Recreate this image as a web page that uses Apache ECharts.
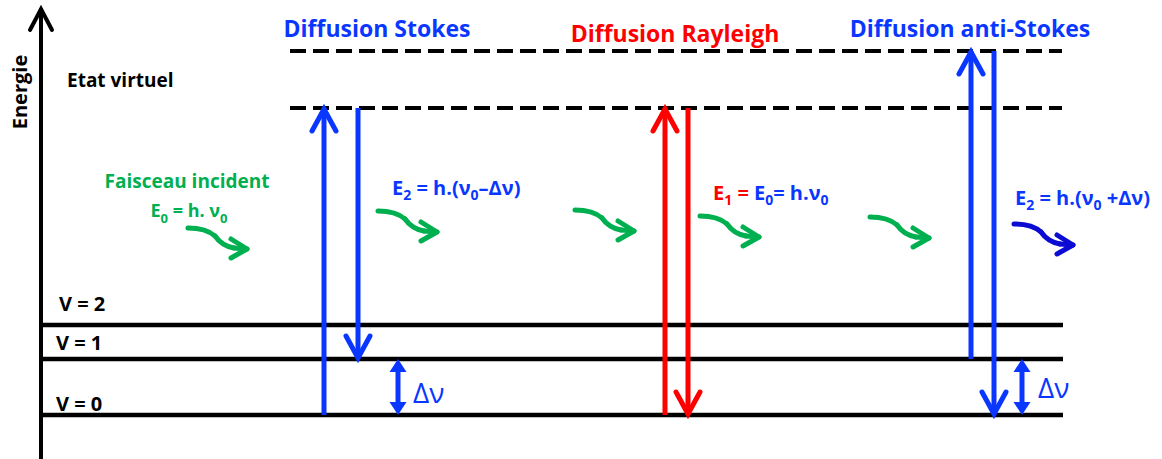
<!DOCTYPE html>
<html>
<head>
<meta charset="utf-8">
<script src="https://cdn.jsdelivr.net/npm/echarts@6/dist/echarts.min.js"></script>
<style>
  html, body { margin: 0; padding: 0; background: #fff; }
  #main { width: 1162px; height: 459px; }
</style>
</head>
<body>
<div id="main"></div>
<script>
const FONT = '"Open Sans", "DejaVu Sans", sans-serif';
const BLUE = '#0a37ff', RED = '#ff0000', GREEN = '#00b050', NAVY = '#0b0bd4';

// energy scale : 1 unit above the V = 0 level
const levelNames = ['V = 0', 'V = 1', 'V = 2'];
const levelEnergy = [0, 56, 90];
const virtualEnergy = [307, 364];
const processNames = ['Diffusion Stokes', 'Diffusion Rayleigh', 'Diffusion anti-Stokes'];

// absorption (up) and emission (down) for each process
const upX = [324, 665, 971];
const upFrom = [0, 0, 56];
const upTo = [307, 307, 364];
const downX = [358, 688, 994];
const downFrom = [307, 307, 364];
const downTo = [56, 0, 0];

// delta nu markers between V = 0 and V = 1
const deltaX = [398, 1022];

// photons (wavy arrows), start point
const photonX = [188, 378, 575, 700, 870, 1014];
const photonE = [187, 204, 205, 199, 198, 191];
const photonOut = [false, false, false, false, false, true];

const procColor = [BLUE, RED, BLUE];

var chart = echarts.init(document.getElementById('main'), null, { renderer: 'svg' });

// wave shape (dx, dE) from the start point
const waveA = [[0, 0], [18, 0], [27, -8]];
const waveB = [[27, -8], [34, -18], [46, -20]];
const waveC = [[46, -20], [59, -21]];
const waveHead = [[43, -11], [59, -21], [43, -30]];

function pt(api, x, e) { return api.coord([x, e]); }

function vArrow(api, x, e0, e1, color, width, hw, hl) {
    const p0 = pt(api, x, e0), p1 = pt(api, x, e1);
    const dir = p1[1] < p0[1] ? 1 : -1; // head points up when 1
    return [
        { type: 'line', shape: { x1: p0[0], y1: p0[1], x2: p1[0], y2: p1[1] },
          style: { stroke: color, lineWidth: width } },
        { type: 'polyline', shape: { points: [[p1[0] - hw, p1[1] + dir * hl], [p1[0], p1[1] + 1 * dir], [p1[0] + hw, p1[1] + dir * hl]] },
          style: { stroke: color, lineWidth: width, fill: null, lineCap: 'round', lineJoin: 'miter' } }
    ];
}

function subRich(color, size) {
    const sub = Math.round(size * 0.7);
    return {
        n: { fill: color, fontSize: size, fontWeight: 'bold', fontFamily: FONT, lineHeight: 28 },
        s: { fill: color, fontSize: sub, fontWeight: 'bold', fontFamily: FONT, lineHeight: sub + 2, verticalAlign: 'bottom' },
        r: { fill: RED, fontSize: size, fontWeight: 'bold', fontFamily: FONT, lineHeight: 28 },
        rs: { fill: RED, fontSize: sub, fontWeight: 'bold', fontFamily: FONT, lineHeight: sub + 2, verticalAlign: 'bottom' }
    };
}

const notes = [
    { text: processNames[0], x: 377, e: 387, color: procColor[0], size: 23, bold: true, align: 'center' },
    { text: processNames[1], x: 675, e: 382, color: procColor[1], size: 23, bold: true, align: 'center' },
    { text: processNames[2], x: 970, e: 387, color: procColor[2], size: 23, bold: true, align: 'center' },
    { text: 'Etat virtuel', x: 67, e: 335, color: '#000', size: 19, bold: true, align: 'left' },
    { text: 'Energie', x: 19, e: 323, color: '#000', size: 20, bold: true, align: 'center', rot: Math.PI / 2 },
    { text: 'Faisceau incident', x: 187, e: 234, color: GREEN, size: 19, bold: true, align: 'center' },
    { text: '{n|E}{s|0}{n| = h. ν}{s|0}', x: 189, e: 205, color: GREEN, size: 18, rich: true, align: 'center' },
    { text: '{n|E}{s|2}{n| = h.(ν}{s|0}{n|–Δν)}', x: 392, e: 228, color: BLUE, size: 20, rich: true, align: 'left' },
    { text: '{r|E}{rs|1}{r| = }{n|E}{s|0}{n|= h.ν}{s|0}', x: 713, e: 223, color: BLUE, size: 20, rich: true, align: 'left' },
    { text: '{n|E}{s|2}{n| = h.(ν}{s|0}{n| +Δν)}', x: 1015, e: 218, color: BLUE, size: 20, rich: true, align: 'left' },
    { text: levelNames[2], x: 59, e: 112, color: '#000', size: 20, bold: true, align: 'left' },
    { text: levelNames[1], x: 56, e: 73, color: '#000', size: 20, bold: true, align: 'left' },
    { text: levelNames[0], x: 56, e: 12, color: '#000', size: 20, bold: true, align: 'left' },
    { text: 'Δν', x: 413, e: 23, color: BLUE, size: 28, align: 'left' },
    { text: 'Δν', x: 1038, e: 28, color: BLUE, size: 28, align: 'left' }
];

var option = {
    animation: false,
    grid: { left: 0, right: 0, top: 0, bottom: 0 },
    xAxis: { type: 'value', min: 0, max: 1162, show: false },
    yAxis: { type: 'value', min: -44, max: 415, show: false },
    series: [
        {
            // energy axis
            type: 'custom',
            data: [[41, -44, 407]],
            renderItem: function (params, api) {
                return { type: 'group', children: vArrow(api, api.value(0), api.value(1), api.value(2), '#000', 4, 11, 22) };
            }
        },
        {
            // vibrational levels
            type: 'custom',
            data: levelEnergy.map(e => [e]),
            renderItem: function (params, api) {
                const a = pt(api, 41, api.value(0)), b = pt(api, 1063, api.value(0));
                return { type: 'line', shape: { x1: a[0], y1: a[1], x2: b[0], y2: b[1] },
                         style: { stroke: '#000', lineWidth: 4.5 } };
            }
        },
        {
            // virtual states
            type: 'custom',
            data: virtualEnergy.map(e => [e]),
            renderItem: function (params, api) {
                const a = pt(api, 290, api.value(0)), b = pt(api, 1062, api.value(0));
                return { type: 'line', shape: { x1: a[0], y1: a[1], x2: b[0], y2: b[1] },
                         style: { stroke: '#000', lineWidth: 4, lineDash: [16, 7] } };
            }
        },
        {
            // transitions
            type: 'custom',
            data: upX.map((x, i) => [x, upFrom[i], upTo[i], i]).concat(downX.map((x, i) => [x, downFrom[i], downTo[i], i])),
            renderItem: function (params, api) {
                const c = procColor[api.value(3)];
                return { type: 'group', children: vArrow(api, api.value(0), api.value(1), api.value(2), c, 5, 12, 23) };
            }
        },
        {
            // delta nu double arrows
            type: 'custom',
            data: deltaX.map(x => [x, levelEnergy[0], levelEnergy[1]]),
            renderItem: function (params, api) {
                const lo = pt(api, api.value(0), api.value(1)), hi = pt(api, api.value(0), api.value(2));
                const x = lo[0], hw = 8.5, hl = 13;
                return { type: 'group', children: [
                    { type: 'line', shape: { x1: x, y1: hi[1] + hl - 1, x2: x, y2: lo[1] - hl + 1 }, style: { stroke: BLUE, lineWidth: 5 } },
                    { type: 'polygon', shape: { points: [[x, hi[1]], [x - hw, hi[1] + hl], [x + hw, hi[1] + hl]] }, style: { fill: BLUE } },
                    { type: 'polygon', shape: { points: [[x, lo[1]], [x - hw, lo[1] - hl], [x + hw, lo[1] - hl]] }, style: { fill: BLUE } }
                ] };
            }
        },
        {
            // photons
            type: 'custom',
            data: photonX.map((x, i) => [x, photonE[i], photonOut[i] ? 1 : 0]),
            renderItem: function (params, api) {
                const x0 = api.value(0), e0 = api.value(1);
                const c = api.value(2) ? NAVY : GREEN;
                const m = p => pt(api, x0 + p[0], e0 + p[1]);
                const st = { stroke: c, lineWidth: 5, fill: null, lineCap: 'round', lineJoin: 'round' };
                const A = waveA.map(m), B = waveB.map(m), C = waveC.map(m), H = waveHead.map(m);
                return { type: 'group', children: [
                    { type: 'bezierCurve', shape: { x1: A[0][0], y1: A[0][1], cpx1: A[1][0], cpy1: A[1][1], x2: A[2][0], y2: A[2][1] }, style: st },
                    { type: 'bezierCurve', shape: { x1: B[0][0], y1: B[0][1], cpx1: B[1][0], cpy1: B[1][1], x2: B[2][0], y2: B[2][1] }, style: st },
                    { type: 'line', shape: { x1: C[0][0], y1: C[0][1], x2: C[1][0], y2: C[1][1] }, style: st },
                    { type: 'polyline', shape: { points: H }, style: st }
                ] };
            }
        },
        {
            // texts
            type: 'custom',
            data: notes.map((n, i) => [n.x, n.e, i]),
            renderItem: function (params, api) {
                const n = notes[api.value(2)];
                const p = pt(api, api.value(0), api.value(1));
                const style = {
                    text: n.text, fill: n.color, fontSize: n.size, fontFamily: FONT,
                    fontWeight: n.bold ? 'bold' : 'normal', align: n.align, verticalAlign: 'middle'
                };
                if (n.rich) style.rich = subRich(n.color, n.size);
                return { type: 'text', x: p[0], y: p[1], rotation: n.rot || 0, style: style };
            }
        }
    ]
};

chart.setOption(option);
</script>
</body>
</html>
